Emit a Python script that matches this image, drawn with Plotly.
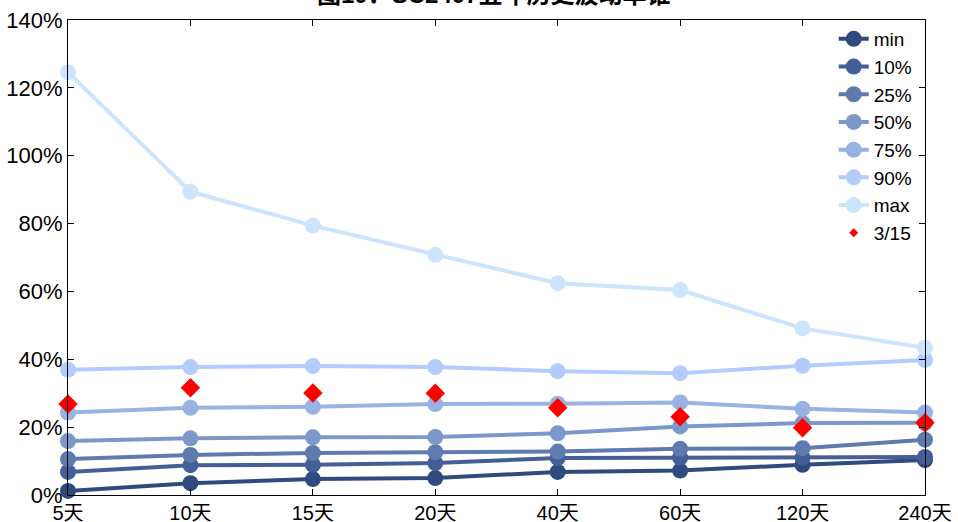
import plotly.graph_objects as go

categories = ["5天", "10天", "15天", "20天", "40天", "60天", "120天", "240天"]
series_names = ["min", "10%", "25%", "50%", "75%", "90%", "max"]
v_min = [1.2, 3.5, 4.7, 5.0, 6.8, 7.2, 8.9, 10.3]
v_p10 = [6.8, 8.8, 8.9, 9.4, 10.9, 11.0, 11.0, 11.2]
v_p25 = [10.6, 11.8, 12.4, 12.6, 12.8, 13.6, 13.8, 16.3]
v_p50 = [15.9, 16.7, 17.0, 17.1, 18.2, 20.2, 21.2, 21.3]
v_p75 = [24.3, 25.7, 26.0, 26.8, 26.9, 27.3, 25.4, 24.3]
v_p90 = [36.9, 37.7, 38.0, 37.7, 36.5, 35.9, 38.1, 39.8]
v_max = [124.6, 89.4, 79.4, 70.8, 62.4, 60.4, 49.1, 43.4]
v_cur = [26.8, 31.6, 30.1, 30.0, 25.7, 23.1, 19.8, 21.3]
cur_name = "3/15"
title_text = "图10：SC2407五年历史波动率锥"
y_ticks = [0, 20, 40, 60, 80, 100, 120, 140]

colors = ["#2F4A7E", "#445F97", "#5F7AAE", "#7C98CA", "#98B2E3", "#B3CCFB", "#CDE4FD"]
values = [v_min, v_p10, v_p25, v_p50, v_p75, v_p90, v_max]

FONT = "Liberation Sans, Arial, Noto Sans CJK SC, sans-serif"

fig = go.Figure()
for name, vals, c in zip(series_names, values, colors):
    fig.add_trace(go.Scatter(
        x=categories, y=vals, name=name, mode="lines+markers",
        line=dict(color=c, width=4),
        marker=dict(color=c, size=16),
        cliponaxis=False,
    ))

fig.add_trace(go.Scatter(
    x=categories, y=v_cur, name=cur_name, mode="markers",
    marker=dict(color="#FF0000", symbol="diamond", size=15),
    cliponaxis=False, showlegend=False,
))
fig.add_trace(go.Scatter(
    x=[None], y=[None], name=cur_name, mode="markers",
    marker=dict(color="#FF0000", symbol="diamond", size=7),
))

fig.update_layout(
    width=958, height=522,
    margin=dict(l=68, r=33, t=20, b=27),
    paper_bgcolor="white", plot_bgcolor="white",
    font=dict(family=FONT, size=22, color="black"),
    showlegend=True,
    legend=dict(x=0.8935, y=1.0, xanchor="left", yanchor="top",
                bgcolor="rgba(0,0,0,0)", font=dict(size=19),
                tracegroupgap=0, itemwidth=30),
    annotations=[dict(text="<b>" + title_text + "</b>", xref="paper", yref="paper",
                      x=0.496, y=1, xanchor="center", yanchor="bottom", yshift=10,
                      showarrow=False, font=dict(size=24, family=FONT))],
)
fig.update_xaxes(
    type="category", range=[0, 7], showgrid=False, zeroline=False,
    showline=True, linecolor="black", linewidth=1, mirror="ticks",
    ticks="inside", ticklen=6, tickcolor="black", automargin=False,
    tickfont=dict(size=20, family=FONT),
)
fig.update_yaxes(
    range=[0, 140], tickvals=y_ticks, ticktext=[f"{t}%" for t in y_ticks],
    showgrid=False, zeroline=False,
    showline=True, linecolor="black", linewidth=1, mirror="ticks",
    ticks="inside", ticklen=6, tickcolor="black", automargin=False,
    tickfont=dict(size=22, family=FONT),
)

fig.write_html("out.html", config={"displayModeBar": False},
               post_script="document.body.style.margin='0';document.body.style.overflow='hidden';")
